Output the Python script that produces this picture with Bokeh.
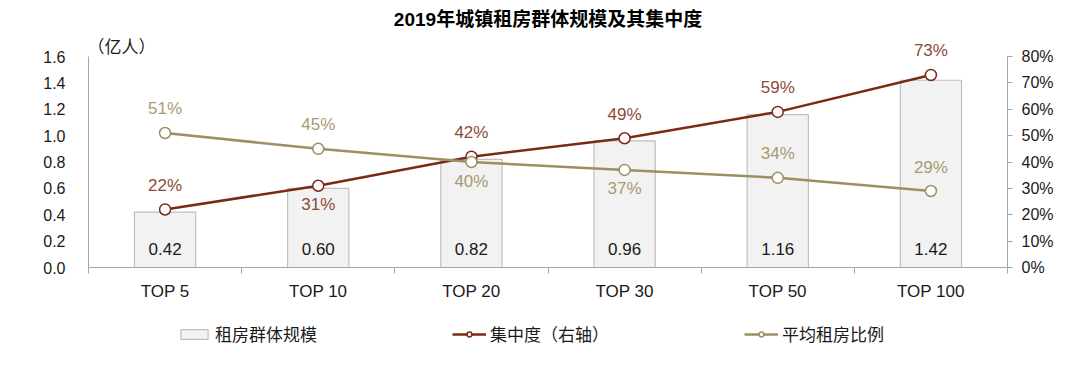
from bokeh.plotting import figure
from bokeh.layouts import column
from bokeh.models import (Range1d, LinearAxis, FixedTicker, PrintfTickFormatter,
                          ColumnDataSource, LabelSet, Label, Legend, LegendItem, Title)
from bokeh.core.properties import value
from bokeh.embed import file_html
from bokeh.resources import INLINE

categories = ["TOP 5", "TOP 10", "TOP 20", "TOP 30", "TOP 50", "TOP 100"]
renters = [0.42, 0.60, 0.82, 0.96, 1.16, 1.42]          # 亿人
concentration = [22, 31, 42, 49, 59, 73]                # %
avg_rent_ratio = [51, 45, 40, 37, 34, 29]               # %
conc_label_side = [1, -1, 1, 1, 1, 1]
ratio_label_side = [1, 1, -1, -1, 1, 1]
series_names = ["租房群体规模", "集中度（右轴）", "平均租房比例"]
left_ticks = [0, 0.2, 0.4, 0.6, 0.8, 1.0, 1.2, 1.4, 1.6]
right_ticks = [0, 10, 20, 30, 40, 50, 60, 70, 80]

FONT = "Liberation Sans, Noto Sans CJK SC"
RED = "#7A2A12"
RED_T = "#8E4A36"
OLI = "#9C8F62"
OLI_T = "#A89B70"
BAR_F = "#F2F2F2"
BAR_L = "#BFBFBF"
AX = "#A6A6A6"
TXT = "#1a1a1a"

# layout geometry (pixels)
FIG_H = 310
FRAME_TOP = 34
FRAME_BOTTOM = 267
AXIS_TOP = 56                      # where the axes' top ticks sit
frame_h = FRAME_BOTTOM - FRAME_TOP
axis_h = FRAME_BOTTOM - AXIS_TOP
lmax, rmax = left_ticks[-1], right_ticks[-1]

n = len(categories)
xs = [i + 0.5 for i in range(n)]

p = figure(width=1064, height=FIG_H, output_backend="svg", toolbar_location=None,
           x_range=Range1d(0, n), y_range=Range1d(0, lmax * frame_h / axis_h),
           min_border_left=88, min_border_right=57, min_border_top=FRAME_TOP,
           min_border_bottom=FIG_H - FRAME_BOTTOM)
p.outline_line_color = None
p.grid.visible = False
p.background_fill_color = "white"

p.title = Title(text="2019年城镇租房群体规模及其集中度", align="center",
                text_font=FONT, text_font_size="19px", text_font_style="bold",
                text_color="#000000", standoff=10)

p.extra_y_ranges = {"pct": Range1d(0, rmax * frame_h / axis_h)}

# axes
p.xaxis.ticker = FixedTicker(ticks=xs, minor_ticks=list(range(n + 1)))
p.xaxis.major_label_overrides = {x: c for x, c in zip(xs, categories)}
p.xaxis.major_tick_out = 0
p.xaxis.major_tick_in = 0
p.xaxis.minor_tick_out = 6
p.xaxis.minor_tick_in = 0
p.xaxis.axis_line_color = AX
p.xaxis.minor_tick_line_color = AX
p.xaxis.major_label_text_font = FONT
p.xaxis.major_label_text_font_size = "17px"
p.xaxis.major_label_text_color = TXT
p.xaxis.major_label_standoff = 8

p.yaxis.ticker = FixedTicker(ticks=left_ticks)
p.yaxis.bounds = (0, lmax)
p.yaxis.formatter = PrintfTickFormatter(format="%.1f")
p.yaxis.major_tick_out = 0
p.yaxis.major_tick_in = 0
p.yaxis.minor_tick_line_color = None
p.yaxis.axis_line_color = AX
p.yaxis.major_label_text_font = FONT
p.yaxis.major_label_text_font_size = "16px"
p.yaxis.major_label_text_color = TXT
p.yaxis.major_label_standoff = 23

ry = LinearAxis(y_range_name="pct", ticker=FixedTicker(ticks=right_ticks),
                formatter=PrintfTickFormatter(format="%d%%"), bounds=(0, rmax))
ry.major_tick_out = 5
ry.major_tick_in = 0
ry.minor_tick_line_color = None
ry.axis_line_color = AX
ry.major_tick_line_color = AX
ry.major_label_text_font = FONT
ry.major_label_text_font_size = "16px"
ry.major_label_text_color = TXT
ry.major_label_standoff = 9
p.add_layout(ry, "right")

# bars
bsrc = ColumnDataSource(dict(x=xs, top=renters,
                             lab=["%.2f" % v for v in renters], zero=[0] * n))
p.vbar(x="x", top="top", width=0.4, source=bsrc,
       fill_color=BAR_F, line_color=BAR_L, line_width=1.2)
p.add_layout(LabelSet(x="x", y="zero", text="lab", source=bsrc, y_offset=19,
                      text_align="center", text_baseline="middle",
                      text_font=value(FONT), text_font_size="17px", text_color=TXT))

# concentration line
csrc = ColumnDataSource(dict(x=xs, y=concentration,
                             lab=["%d%%" % v for v in concentration],
                             off=[24 if s > 0 else -19 for s in conc_label_side]))
p.line("x", "y", source=csrc, y_range_name="pct", line_color=RED, line_width=2.5)
p.scatter("x", "y", source=csrc, y_range_name="pct", size=11, marker="circle",
          fill_color="white", line_color=RED, line_width=1.5)
p.add_layout(LabelSet(x="x", y="y", text="lab", source=csrc, y_range_name="pct",
                      y_offset="off", text_align="center", text_baseline="middle",
                      text_font=value(FONT), text_font_size="17px", text_color=RED_T))

# average rent ratio line
osrc = ColumnDataSource(dict(x=xs, y=avg_rent_ratio,
                             lab=["%d%%" % v for v in avg_rent_ratio],
                             off=[24 if s > 0 else -19 for s in ratio_label_side]))
p.line("x", "y", source=osrc, y_range_name="pct", line_color=OLI, line_width=2.5)
p.scatter("x", "y", source=osrc, y_range_name="pct", size=11, marker="circle",
          fill_color="white", line_color=OLI, line_width=1.5)
p.add_layout(LabelSet(x="x", y="y", text="lab", source=osrc, y_range_name="pct",
                      y_offset="off", text_align="center", text_baseline="middle",
                      text_font=value(FONT), text_font_size="17px", text_color=OLI_T))

# unit label
p.add_layout(Label(x=0, y=lmax, text="（亿人）", x_offset=-1, y_offset=9,
                   text_baseline="middle", text_font=FONT,
                   text_font_size="17px", text_color=TXT))

# legend strip (separate small figure below the chart)
q = figure(width=1064, height=50, output_backend="svg", toolbar_location=None,
           x_range=Range1d(0, 1), y_range=Range1d(0, 1),
           x_axis_location=None, y_axis_location=None,
           min_border_left=0, min_border_right=0, min_border_top=0, min_border_bottom=0)
q.grid.visible = False
q.outline_line_color = None
lb = q.vbar(x=[-5], top=[-5], bottom=[-6], width=0.4,
            fill_color=BAR_F, line_color=BAR_L, line_width=1.2)
l1 = q.line(x=[-5, -4], y=[-5, -5], line_color=RED, line_width=2.5)
m1 = q.scatter(x=[-5], y=[-5], size=11, marker="circle", fill_color="white",
               line_color=RED, line_width=1.5)
l2 = q.line(x=[-5, -4], y=[-5, -5], line_color=OLI, line_width=2.5)
m2 = q.scatter(x=[-5], y=[-5], size=11, marker="circle", fill_color="white",
               line_color=OLI, line_width=1.5)
legend = Legend(items=[LegendItem(label=series_names[0], renderers=[lb]),
                       LegendItem(label=series_names[1], renderers=[l1, m1]),
                       LegendItem(label=series_names[2], renderers=[l2, m2])],
                orientation="horizontal", location=(89, 14),
                label_text_font=FONT, label_text_font_size="17px",
                label_text_color=TXT, glyph_width=34, glyph_height=12,
                spacing=135, border_line_color=None, background_fill_alpha=0,
                padding=4, margin=0, label_standoff=4)
q.add_layout(legend, "center")

open("out.html", "w").write(file_html(column(p, q), INLINE))
